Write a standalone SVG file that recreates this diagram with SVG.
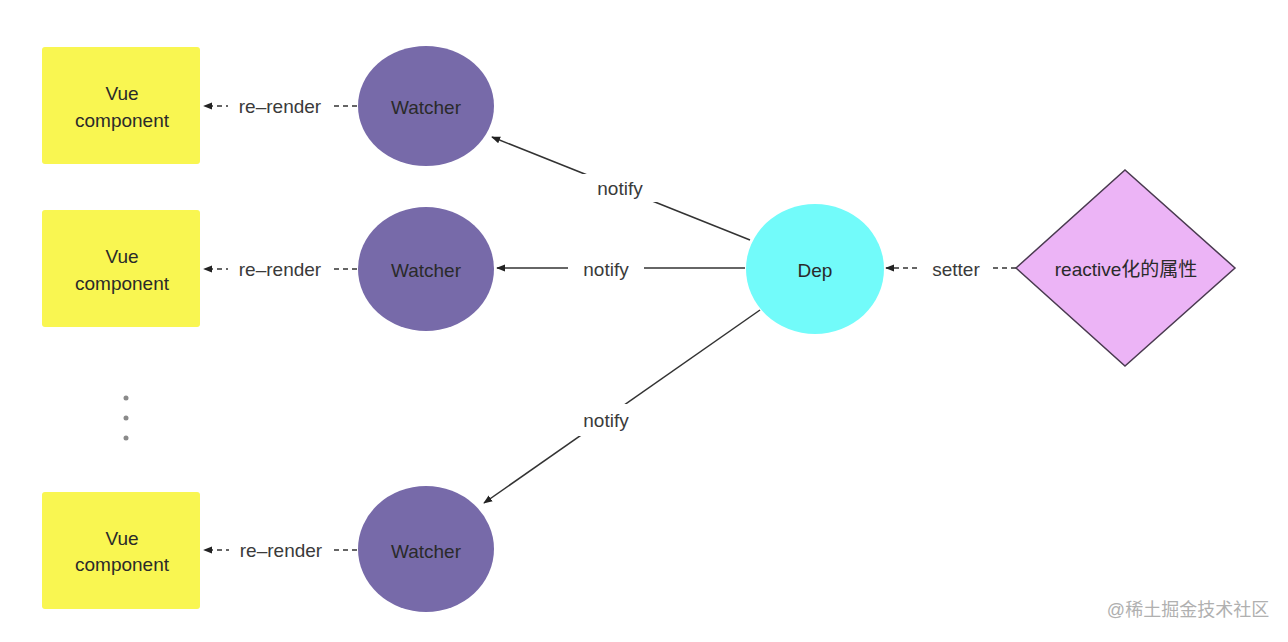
<svg xmlns="http://www.w3.org/2000/svg" width="1288" height="642" viewBox="0 0 1288 642">
<style>
text{font-family:"Liberation Sans","Noto Sans CJK SC",Arial,sans-serif;font-size:19px;fill:#2a2a2a;text-anchor:middle;dominant-baseline:central}
.box{fill:#f9f651}
.watcher{fill:#776aa9}
.dep{fill:#72fbfa}
.prop{fill:#ecb4f6;stroke:#4a3a50;stroke-width:1.5}
.solid{stroke:#333;stroke-width:1.5;fill:none}
.dash{stroke:#333;stroke-width:1.5;fill:none;stroke-dasharray:5 4}
.lbl{fill:#3a3a3a}
.dot{fill:#8a8a8a}
</style>
<defs>
<marker id="arr" viewBox="0 0 10 10" refX="9" refY="5" markerWidth="9" markerHeight="9" markerUnits="userSpaceOnUse" orient="auto">
<path d="M0,1 L10,5 L0,9 z" fill="#222"/>
</marker>
</defs>
<rect width="1288" height="642" fill="#fff"/>
<g id="connectors">
<line class="dash" x1="357" y1="106" x2="204" y2="106" marker-end="url(#arr)"/>
<line class="dash" x1="357" y1="269" x2="204" y2="269" marker-end="url(#arr)"/>
<line class="dash" x1="357" y1="550" x2="204" y2="550" marker-end="url(#arr)"/>
<line class="solid" x1="750" y1="240" x2="492" y2="137" marker-end="url(#arr)"/>
<line class="solid" x1="745" y1="268" x2="497" y2="268" marker-end="url(#arr)"/>
<line class="solid" x1="760" y1="310" x2="484" y2="503" marker-end="url(#arr)"/>
<line class="dash" x1="1016" y1="268" x2="886" y2="268" marker-end="url(#arr)"/>
<rect x="228" y="94" width="104" height="24" fill="#fff"/>
<rect x="228" y="257" width="104" height="24" fill="#fff"/>
<rect x="229" y="538" width="104" height="24" fill="#fff"/>
<rect x="580" y="174" width="80" height="28" fill="#fff"/>
<rect x="568" y="257" width="76" height="24" fill="#fff"/>
<rect x="568" y="404" width="76" height="32" fill="#fff"/>
<rect x="920" y="257" width="72" height="24" fill="#fff"/>
<text class="lbl" x="280" y="106">re–render</text>
<text class="lbl" x="280" y="269">re–render</text>
<text class="lbl" x="281" y="550">re–render</text>
<text class="lbl" x="620" y="188">notify</text>
<text class="lbl" x="606" y="269">notify</text>
<text class="lbl" x="606" y="420">notify</text>
<text class="lbl" x="956" y="269">setter</text>
</g>
<g id="vue1"><rect class="box" x="42" y="47" width="158" height="117" rx="3"/><text x="122" y="93">Vue</text><text x="122" y="120">component</text></g>
<g id="vue2"><rect class="box" x="42" y="210" width="158" height="117" rx="3"/><text x="122" y="256">Vue</text><text x="122" y="283">component</text></g>
<g id="vue3"><rect class="box" x="42" y="492" width="158" height="117" rx="3"/><text x="122" y="538">Vue</text><text x="122" y="564">component</text></g>
<g id="ellipsis"><circle class="dot" cx="126" cy="398" r="2.5"/><circle class="dot" cx="126" cy="418" r="2.5"/><circle class="dot" cx="126" cy="438" r="2.5"/></g>
<g id="watcher1"><ellipse class="watcher" cx="426" cy="106" rx="68" ry="60"/><text x="426" y="107">Watcher</text></g>
<g id="watcher2"><ellipse class="watcher" cx="426" cy="269" rx="68" ry="62"/><text x="426" y="270">Watcher</text></g>
<g id="watcher3"><ellipse class="watcher" cx="426" cy="549" rx="68" ry="63"/><text x="426" y="551">Watcher</text></g>
<g id="dep"><ellipse class="dep" cx="815" cy="269" rx="69" ry="65"/><text x="815" y="270">Dep</text></g>
<g id="prop"><polygon class="prop" points="1016,268 1125,170 1235,268 1125,366"/><text x="1126" y="269">reactive化的属性</text></g>
<text x="1188" y="610" style="font-size:18px;fill:#b0b0b0">@稀土掘金技术社区</text>
</svg>
